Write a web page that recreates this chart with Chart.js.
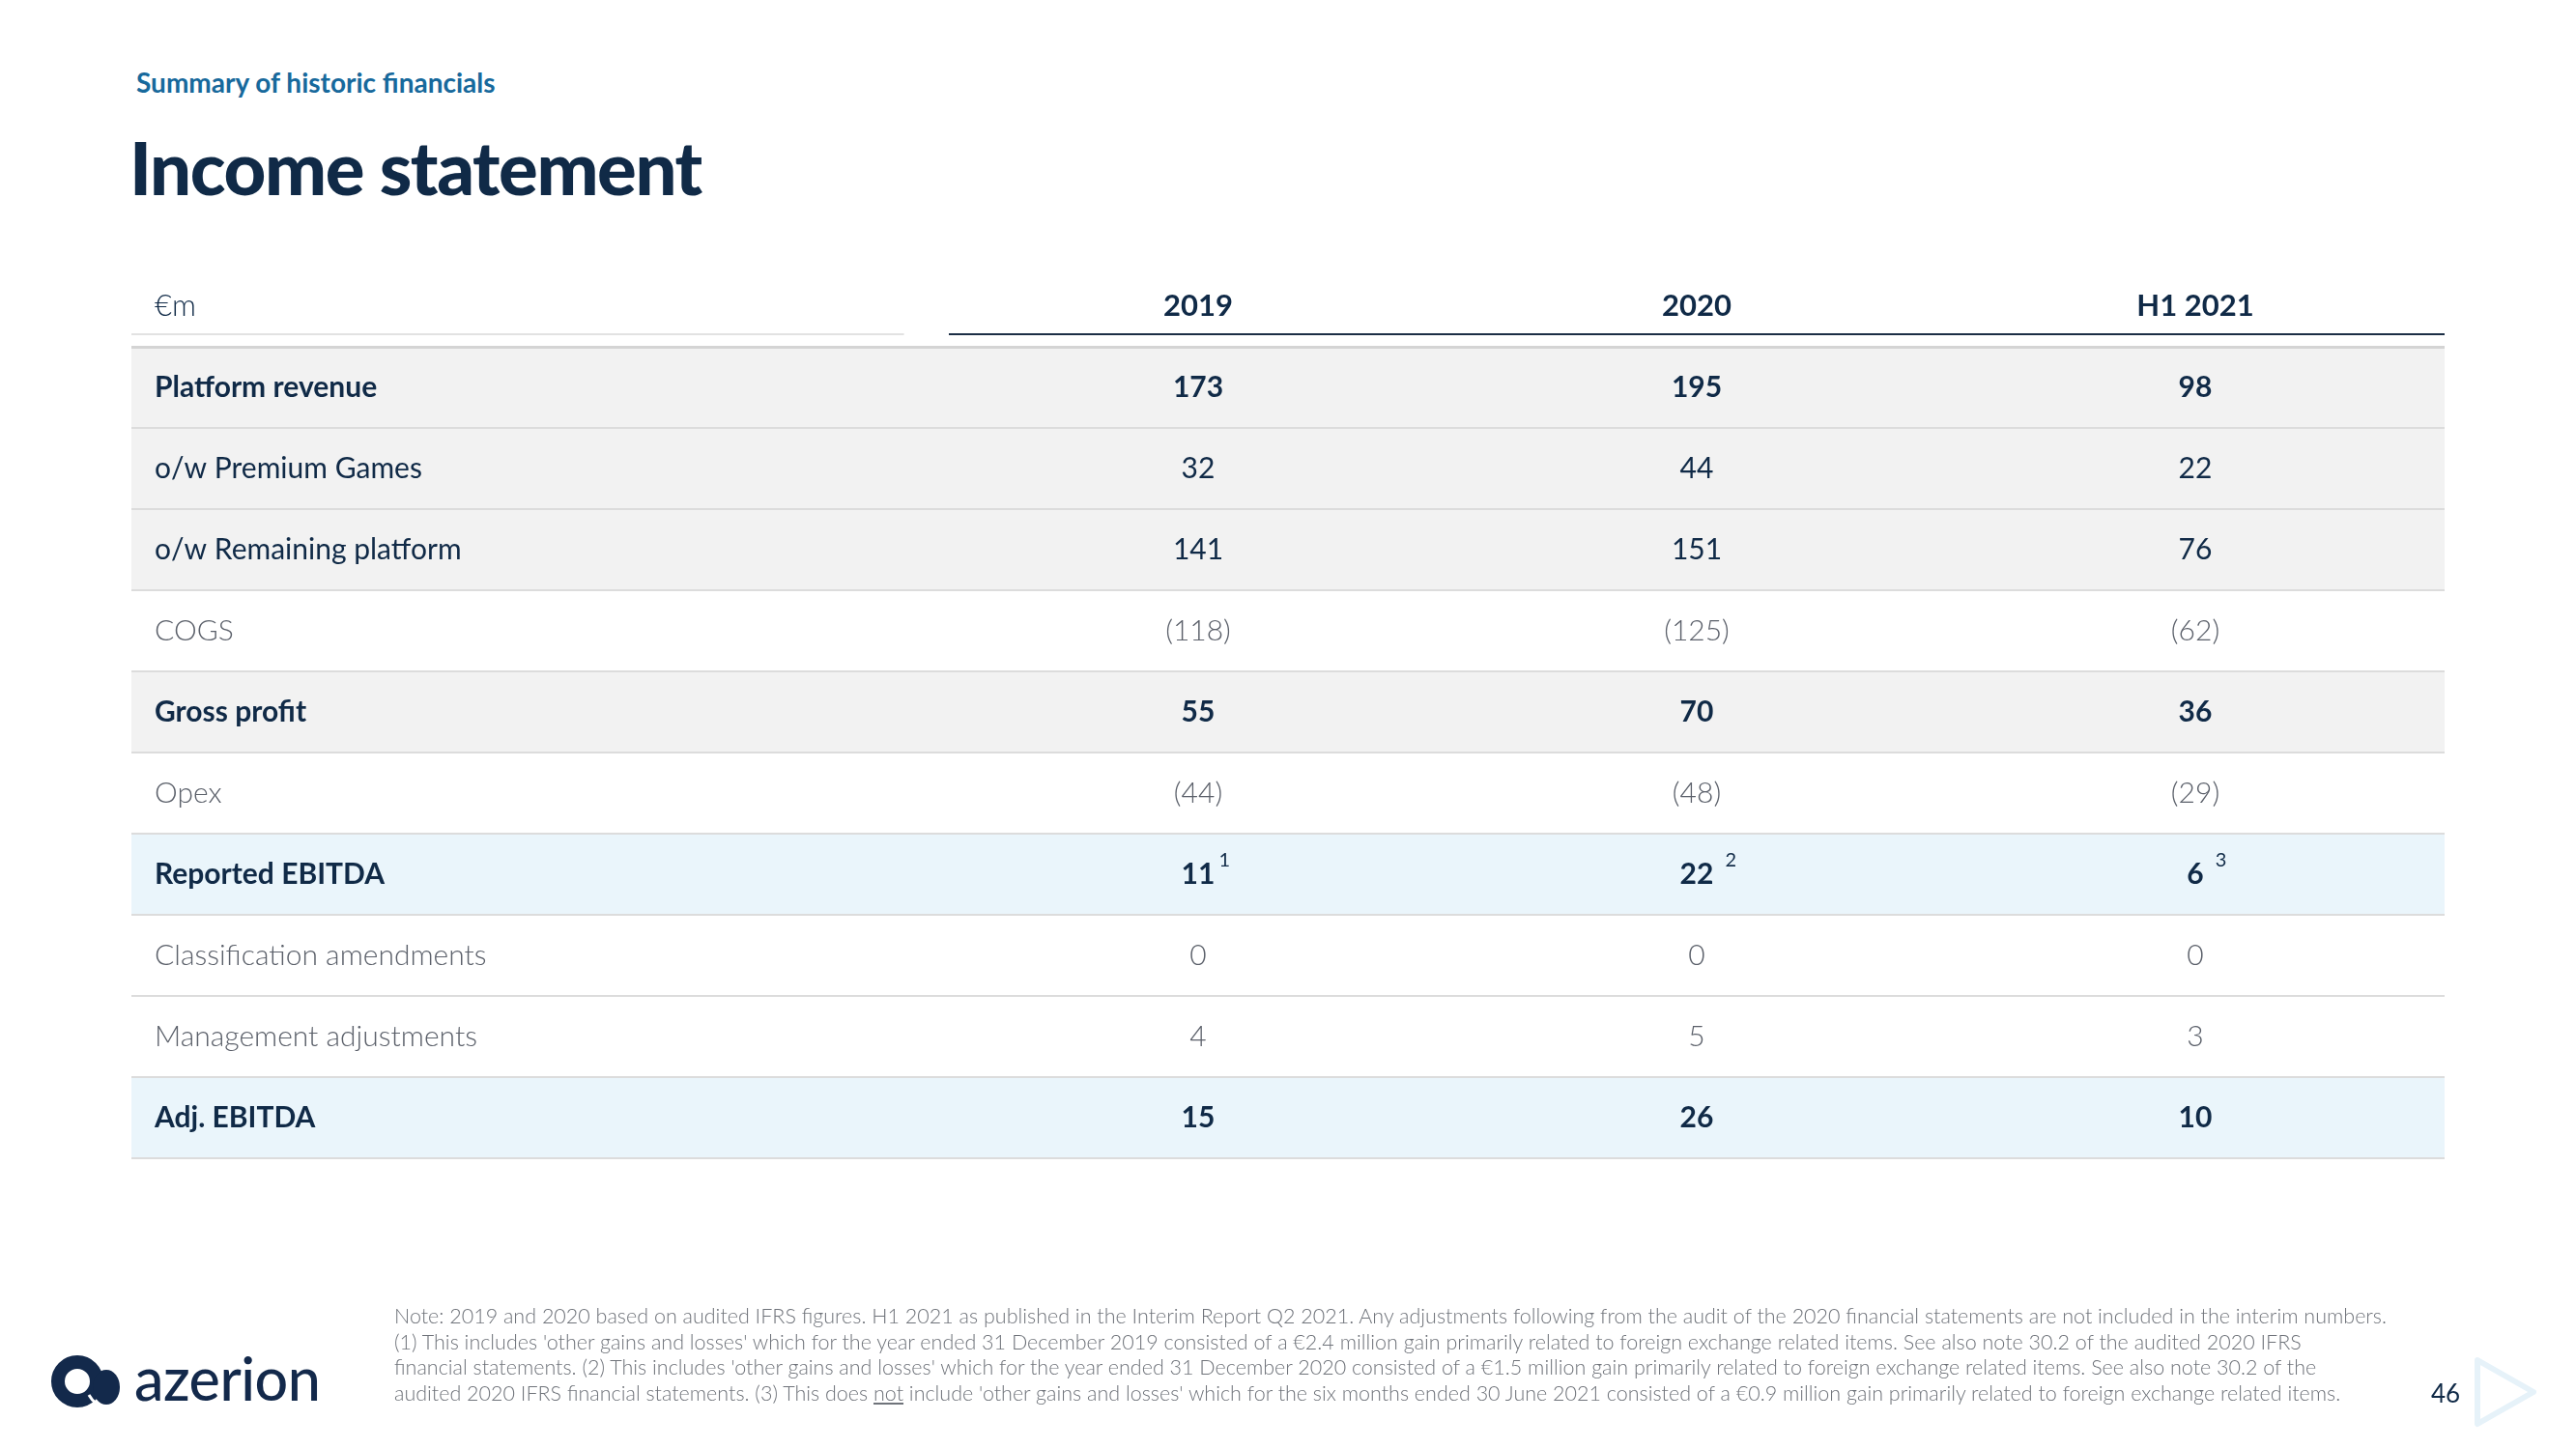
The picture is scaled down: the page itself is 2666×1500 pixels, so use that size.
<!DOCTYPE html>
<html>
<head>
<meta charset="utf-8">
<script src="https://cdn.jsdelivr.net/npm/chart.js@4.4.1/dist/chart.umd.min.js"></script>
<style>
  html, body { margin: 0; padding: 0; background: #ffffff; }
  body { width: 2666px; height: 1500px; position: relative; overflow: hidden; font-family: Lato, "Open Sans", sans-serif; }
  #chart { position: absolute; left: 0; top: 0; }
  .subtitle { position: absolute; left: 141px; top: 71px; font-size: 28px; line-height: 28px; font-weight: 700; color: #17699c; }
  .title { position: absolute; left: 134px; top: 135px; font-size: 76px; line-height: 76px; font-weight: 900; color: #102a47; letter-spacing: -1.4px; }
  .note { position: absolute; left: 408px; top: 1349px; font-size: 21.5px; line-height: 26.5px; font-weight: 300; color: #6f737a; white-space: nowrap; }
  .page { position: absolute; left: 2516px; top: 1429px; font-size: 26px; line-height: 26px; color: #102a47; }
  .logo-text { position: absolute; left: 139px; top: 1396px; font-size: 61px; line-height: 61px; font-weight: 500; color: #13294b; letter-spacing: -0.5px; }
  svg { position: absolute; }
</style>
</head>
<body>
<div class="subtitle">Summary of historic financials</div>
<div class="title">Income statement</div>
<canvas id="chart" width="2666" height="1500"></canvas>

<div class="note">
  <div>Note: 2019 and 2020 based on audited IFRS figures. H1 2021 as published in the Interim Report Q2 2021. Any adjustments following from the audit of the 2020 financial statements are not included in the interim numbers.</div>
  <div>(1) This includes 'other gains and losses' which for the year ended 31 December 2019 consisted of a €2.4 million gain primarily related to foreign exchange related items. See also note 30.2 of the audited 2020 IFRS</div>
  <div>financial statements. (2) This includes 'other gains and losses' which for the year ended 31 December 2020 consisted of a €1.5 million gain primarily related to foreign exchange related items. See also note 30.2 of the</div>
  <div>audited 2020 IFRS financial statements. (3) This does <u>not</u> include 'other gains and losses' which for the six months ended 30 June 2021 consisted of a €0.9 million gain primarily related to foreign exchange related items.</div>
</div>

<svg style="left:52px;top:1398px" width="80" height="68" viewBox="0 0 80 68">
  <circle cx="28" cy="32" r="20" fill="none" stroke="#13294b" stroke-width="14"/>
  <ellipse cx="58" cy="38" rx="14" ry="18" fill="#13294b"/>
  <path d="M40 46 Q48 60 60 58" fill="none" stroke="#ffffff" stroke-width="3"/>
</svg>
<div class="logo-text">azerion</div>
<div class="page">46</div>
<svg style="left:2558px;top:1402px" width="70" height="78" viewBox="0 0 70 78">
  <path d="M6 6 L64 39 L6 72 Z" fill="none" stroke="#e6f2f9" stroke-width="6" stroke-linejoin="round"/>
</svg>

<script>
// Données du tableau
const unitLabel = '€m';
const columns = ['2019', '2020', 'H1 2021'];
const rowLabels = [
    'Platform revenue',
    'o/w Premium Games',
    'o/w Remaining platform',
    'COGS',
    'Gross profit',
    'Opex',
    'Reported EBITDA',
    'Classification amendments',
    'Management adjustments',
    'Adj. EBITDA'
];
const values2019 = [173, 32, 141, -118, 55, -44, 11, 0, 4, 15];
const values2020 = [195, 44, 151, -125, 70, -48, 22, 0, 5, 26];
const valuesH12021 = [98, 22, 76, -62, 36, -29, 6, 0, 3, 10];
const footnoteMarks = ['1', '2', '3'];   // sur la ligne Reported EBITDA
const footnoteRow = 6;

// Styles des lignes
const rowStyle = ['bold', 'regular', 'regular', 'light', 'bold', 'light', 'ebitda', 'light', 'light', 'ebitda'];
const fills = { bold: '#f2f2f2', regular: '#f2f2f2', light: '#ffffff', ebitda: '#eaf5fb' };
const weights = { bold: 700, regular: 400, light: 300, ebitda: 700 };
const colors = { bold: '#102a47', regular: '#102a47', light: '#5b606a', ebitda: '#102a47' };
const navy = '#102a47';
const fontFamily = 'Lato, "Open Sans", sans-serif';

const colValues = [values2019, values2020, valuesH12021];
const X_MIN = -1.6395, X_MAX = 3;

function fmt(v) {
    return v < 0 ? '(' + Math.abs(v) + ')' : String(v);
}

// Plugin pour l'en-tête et les valeurs
const tablePlugin = {
    id: 'tablePlugin',
    afterDraw(chart) {
        const c = chart.ctx;
        const x = chart.scales.x;
        const y = chart.scales.y;
        const area = chart.chartArea;
        c.save();

        // en-tête
        const headY = area.top - 42;
        c.textBaseline = 'middle';
        c.fillStyle = navy;
        c.font = '300 31px ' + fontFamily;
        c.textAlign = 'left';
        c.fillText(unitLabel, area.left + 24, headY);
        c.font = '700 31px ' + fontFamily;
        c.textAlign = 'center';
        columns.forEach(function(col, i) {
            c.fillText(col, x.getPixelForValue(i + 0.5), headY);
        });

        const lineY = area.top - 13;
        c.lineWidth = 2;
        c.strokeStyle = '#e2e2e2';
        c.beginPath();
        c.moveTo(area.left, lineY);
        c.lineTo(x.getPixelForValue(-0.09), lineY);
        c.stroke();
        c.strokeStyle = '#1c2e45';
        c.beginPath();
        c.moveTo(x.getPixelForValue(0), lineY);
        c.lineTo(area.right, lineY);
        c.stroke();

        // valeurs
        colValues.forEach(function(vals, ci) {
            const px = x.getPixelForValue(ci + 0.5);
            vals.forEach(function(v, ri) {
                const st = rowStyle[ri];
                const py = y.getPixelForValue(ri);
                c.font = weights[st] + ' 30px ' + fontFamily;
                c.fillStyle = colors[st];
                c.textAlign = 'center';
                const txt = fmt(v);
                c.fillText(txt, px, py);
                if (ri === footnoteRow) {
                    const w = c.measureText(txt).width;
                    c.font = '400 20px ' + fontFamily;
                    c.textAlign = 'left';
                    c.fillText(footnoteMarks[ci], px + w / 2 + (ci === 0 ? 4 : 12), py - 14);
                }
            });
        });
        c.restore();
    }
};

const ctx = document.getElementById('chart').getContext('2d');
new Chart(ctx, {
    type: 'bar',
    data: {
        labels: rowLabels,
        datasets: [{
            data: rowLabels.map(function() { return [X_MIN, X_MAX]; }),
            backgroundColor: rowStyle.map(function(s) { return fills[s]; }),
            borderWidth: 0,
            barPercentage: 1,
            categoryPercentage: 1
        }]
    },
    options: {
        indexAxis: 'y',
        responsive: false,
        animation: false,
        devicePixelRatio: 1,
        layout: { padding: { left: 136, right: 136, top: 359, bottom: 301 } },
        plugins: { legend: { display: false }, tooltip: { enabled: false } },
        scales: {
            x: { type: 'linear', min: X_MIN, max: X_MAX, display: false },
            y: {
                afterFit: function(axis) { axis.width = 0; },
                grid: {
                    z: 1,
                    offset: true,
                    drawTicks: false,
                    color: function(context) {
                        return (context.index === 0 || context.index === rowLabels.length) ? '#d4d4d4' : '#dcdcdc';
                    },
                    lineWidth: function(context) {
                        return (context.index === 0 || context.index === rowLabels.length) ? 3 : 2;
                    }
                },
                border: { display: false },
                ticks: {
                    z: 2,
                    mirror: true,
                    padding: 24,
                    font: function(context) {
                        return { family: fontFamily, size: 30, weight: weights[rowStyle[context.index]] };
                    },
                    color: function(context) {
                        return colors[rowStyle[context.index]];
                    }
                }
            }
        }
    },
    plugins: [tablePlugin]
});
</script>
</body>
</html>
